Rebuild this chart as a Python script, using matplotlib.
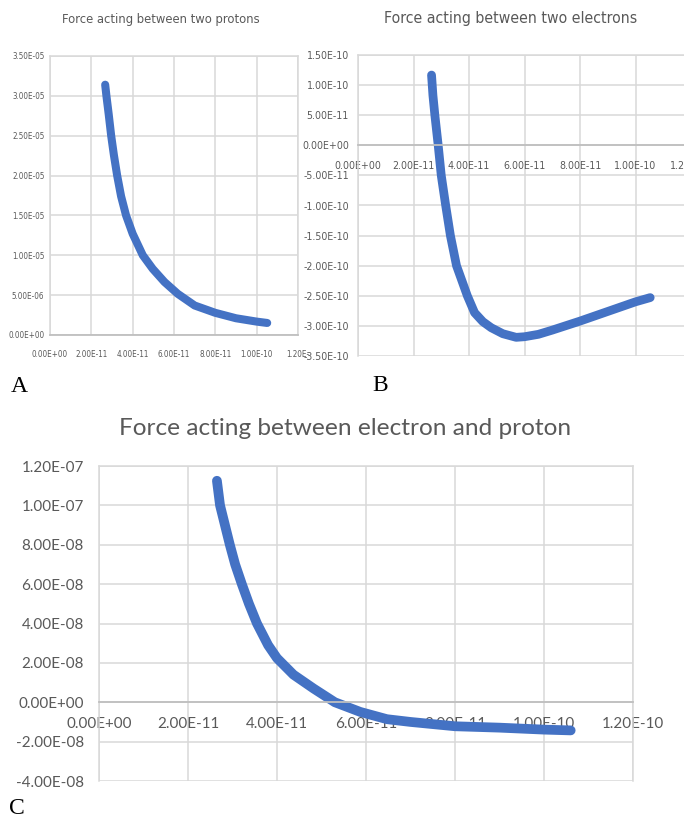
import numpy as np
import matplotlib.pyplot as plt
from matplotlib import font_manager
from matplotlib.font_manager import FontProperties
from matplotlib.textpath import TextPath

# Panel A - force between two protons
r_a = [2.67e-11, 2.73e-11, 2.84e-11, 2.96e-11, 3.09e-11, 3.25e-11, 3.44e-11, 3.68e-11,
       4.0e-11, 4.49e-11, 4.97e-11, 5.54e-11, 6.18e-11, 7.0e-11, 8.0e-11, 9.0e-11,
       1.0e-10, 1.051e-10]
f_a = [3.14e-5, 3.0e-5, 2.77e-5, 2.5e-5, 2.26e-5, 2.0e-5, 1.74e-5, 1.5e-5,
       1.27e-5, 1.0e-5, 8.3e-6, 6.65e-6, 5.17e-6, 3.7e-6, 2.78e-6, 2.1e-6,
       1.68e-6, 1.51e-6]

# Panel B - force between two electrons
r_b = [2.65e-11, 2.7e-11, 2.77e-11, 2.89e-11, 3.0e-11, 3.16e-11, 3.33e-11, 3.55e-11,
       3.94e-11, 4.2e-11, 4.5e-11, 4.8e-11, 5.22e-11, 5.7e-11, 6.0e-11, 6.5e-11, 7.0e-11,
       8.0e-11, 9.0e-11, 1.0e-10, 1.053e-10]
f_b = [1.167e-10, 8.3e-11, 5.0e-11, 0.0, -5.0e-11, -1.0e-10, -1.5e-10, -2.0e-10,
       -2.5e-10, -2.78e-10, -2.93e-10, -3.03e-10, -3.13e-10, -3.19e-10, -3.18e-10, -3.14e-10, -3.07e-10,
       -2.92e-10, -2.76e-10, -2.6e-10, -2.53e-10]

# Panel C - force between electron and proton
r_c = [2.65e-11, 2.72e-11, 2.83e-11, 2.94e-11, 3.06e-11, 3.21e-11, 3.37e-11, 3.55e-11,
       3.8e-11, 4.0e-11, 4.37e-11, 4.82e-11, 5.3e-11, 5.87e-11, 6.47e-11, 7.0e-11,
       8.0e-11, 9.0e-11, 1.0e-10, 1.06e-10]
f_c = [1.125e-7, 1.0e-7, 9.0e-8, 8.0e-8, 7.0e-8, 6.0e-8, 5.0e-8, 4.0e-8,
       2.9e-8, 2.24e-8, 1.4e-8, 7.0e-9, 0.0, -4.9e-9, -8.6e-9, -1.0e-8,
       -1.22e-8, -1.29e-8, -1.39e-8, -1.43e-8]

# Axis ticks
x_ticks = [0, 2e-11, 4e-11, 6e-11, 8e-11, 1e-10, 1.2e-10]
a_yticks = [0, 5e-6, 1e-5, 1.5e-5, 2e-5, 2.5e-5, 3e-5, 3.5e-5]
b_yticks = [-3.5e-10, -3e-10, -2.5e-10, -2e-10, -1.5e-10, -1e-10, -5e-11, 0, 5e-11, 1e-10, 1.5e-10]
c_yticks = [-4e-8, -2e-8, 0, 2e-8, 4e-8, 6e-8, 8e-8, 1e-7, 1.2e-7]

title_a = 'Force acting between two protons'
title_b = 'Force acting between two electrons'
title_c = 'Force acting between electron and proton'

blue = '#4472C4'
grey_txt = '#595959'
W, H = 684, 821

# pick a narrow sans font if one is around, else a plain one
narrow_fname = None
for f in font_manager.fontManager.ttflist:
    fn = f.fname
    if ('Narrow' in fn or 'Condensed' in fn) and 'Sans' in fn and \
            not any(k in fn for k in ['Bold', 'Italic', 'Oblique', 'Light', 'Thin', 'Black', 'Medium']):
        narrow_fname = fn
        break
if narrow_fname:
    narrow = FontProperties(fname=narrow_fname)
else:
    narrow = FontProperties(family='Roboto')
wide = FontProperties(family='Lato')


def fitted(prop, text, width_px):
    # font size so that text spans about width_px pixels at 100 dpi
    w = TextPath((0, 0), text, size=10, prop=prop).get_extents().width
    p = prop.copy()
    p.set_size(10 * width_px * 0.72 / w)
    return p


def box(left, top, right, bottom):
    return [left / W, 1 - bottom / H, (right - left) / W, (bottom - top) / H]


def style(ax, yticks, prop, xpad, ypad, xlabels=None):
    # spine position first: moving it resets the tick labels
    ax.spines['bottom'].set_position(('data', 0))
    ax.spines['bottom'].set_color('#bfbfbf')
    ax.spines['bottom'].set_linewidth(1.3)
    for s in ['left', 'right', 'top']:
        ax.spines[s].set_color('#d9d9d9')
        ax.spines[s].set_linewidth(1.1)
    ax.set_xlim(x_ticks[0], x_ticks[-1])
    ax.set_ylim(yticks[0], yticks[-1])
    ax.set_xticks(x_ticks)
    ax.set_yticks(yticks)
    ax.set_xticklabels(xlabels or [f'{v:.2E}' for v in x_ticks], fontproperties=prop)
    ax.set_yticklabels([f'{v:.2E}' for v in yticks], fontproperties=prop)
    ax.grid(True, color='#d9d9d9', lw=1.1)
    ax.set_axisbelow(True)
    ax.tick_params(length=0, colors=grey_txt)
    ax.tick_params(axis='x', pad=xpad)
    ax.tick_params(axis='y', pad=ypad)


fig = plt.figure(figsize=(W / 100, H / 100), dpi=100)

# A
axA = fig.add_axes(box(50, 56, 298, 335))
axA.plot(r_a, f_a, color=blue, lw=5.8, solid_capstyle='round', solid_joinstyle='round')
style(axA, a_yticks, fitted(narrow, '0.00E+00', 35), 10.5, 4,
      xlabels=[f'{v:.2E}' for v in x_ticks[:-1]] + ['1.20E-'])
fig.text(161 / W, 1 - 20 / H, title_a, ha='center', va='center',
         fontproperties=fitted(narrow, title_a, 196), color=grey_txt)
fig.text(19 / W, 1 - 387 / H, 'A', ha='center', va='center',
         family='Liberation Serif', fontsize=17)

# B
axB = fig.add_axes(box(358, 55, 691, 356))
axB.plot(r_b, f_b, color=blue, lw=6.3, solid_capstyle='round', solid_joinstyle='round')
style(axB, b_yticks, fitted(narrow, '1.50E-10', 41), 11.5, 6.5)
fig.text(511 / W, 1 - 18 / H, title_b, ha='center', va='center',
         fontproperties=fitted(narrow, title_b, 250), color=grey_txt)
fig.text(380 / W, 1 - 385 / H, 'B', ha='center', va='center',
         family='Liberation Serif', fontsize=17)

# C
axC = fig.add_axes(box(99, 466, 633, 781))
axC.plot(r_c, f_c, color=blue, lw=7, solid_capstyle='round', solid_joinstyle='round')
style(axC, c_yticks, fitted(wide, '1.20E-07', 60), 10.5, 11)
fig.text(345 / W, 1 - 428 / H, title_c, ha='center', va='center',
         fontproperties=fitted(wide, title_c, 448), color=grey_txt)
fig.text(17 / W, 1 - 808 / H, 'C', ha='center', va='center',
         family='Liberation Serif', fontsize=17)

fig.savefig('out.png', dpi=100)
